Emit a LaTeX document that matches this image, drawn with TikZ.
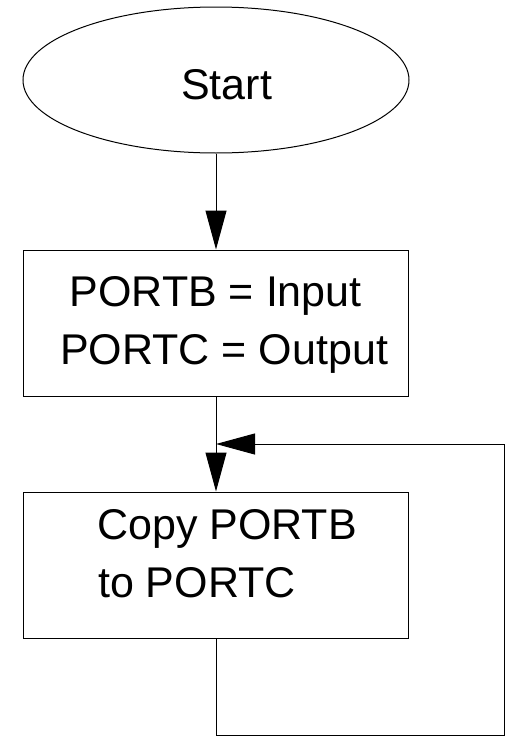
\documentclass[tikz,border=0pt]{standalone}
\usepackage{fontspec}
\setmainfont{Liberation Sans}
\usetikzlibrary{shapes.geometric,arrows.meta}
\tikzset{
  shapeline/.style={draw=black, line width=1pt},
  boxnode/.style={shapeline, rectangle, minimum width=385pt, minimum height=146pt, inner sep=0pt},
  termnode/.style={shapeline, ellipse, minimum width=386pt, minimum height=146pt, inner sep=0pt},
  txt/.style={anchor=base west, inner sep=0pt, font=\fontsize{43}{50}\selectfont},
  flow/.style={line width=1pt, -{Triangle[length=39pt,width=21pt]}}
}
\begin{document}
\begin{tikzpicture}[x=1pt,y=-1pt]
\useasboundingbox (0,0) rectangle (510,736);
\node[termnode] (start) at (216,80) {};
\node[txt] (starttxt) at (181,99) {Start};
\node[boxnode] (box1) at (216,323) {};
\node[txt] (b1a) at (69.5,306) {PORTB = Input};
\node[txt] (b1b) at (60,364) {PORTC = Output};
\node[boxnode] (box2) at (216,565) {};
\node[txt] (b2a) at (97,539) {Copy PORTB};
\node[txt] (b2b) at (98,597) {to PORTC};
\coordinate (lb) at (216,735);
\coordinate (rb) at (504,735);
\coordinate (rt) at (504,444);
\coordinate (join) at (216,444);
\draw[flow] (start.south) -- (box1.north);
\draw[flow] (box1.south) -- (box2.north);
\draw[flow] (box2.south) -- (lb) -- (rb) -- (rt) -- (join);
\end{tikzpicture}
\end{document}
